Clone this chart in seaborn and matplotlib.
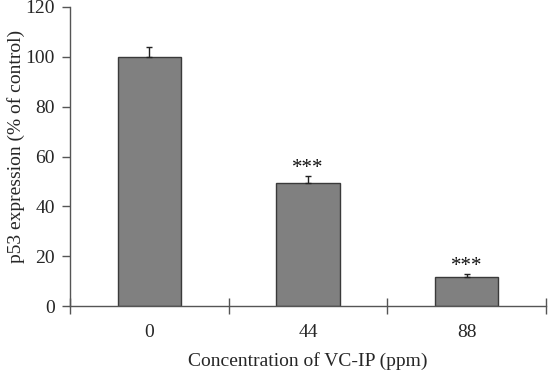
import matplotlib
matplotlib.use("Agg")
import matplotlib.pyplot as plt
import seaborn as sns
import numpy as np

categories = ["0", "44", "88"]
values = [100.0, 49.2, 11.6]
errors = [3.8, 2.9, 1.2]
stars = ["", "***", "***"]
y_ticks = [0, 20, 40, 60, 80, 100, 120]

sns.set_style("white")
plt.rcParams['font.family'] = ['Liberation Serif', 'DejaVu Serif']

fig = plt.figure(figsize=(5.49, 3.80), dpi=100)
ax = fig.add_axes([0.1275, 0.1947, 0.9945 - 0.1275, 0.9816 - 0.1947])

sns.barplot(x=categories, y=values, color="#808080", saturation=1, width=0.4,
            edgecolor="#3a3a3a", linewidth=1.0, errorbar=None, ax=ax)

pos = np.arange(len(categories))
ax.errorbar(pos, values, yerr=[np.zeros(len(values)), errors], fmt="none",
            ecolor="#222222", elinewidth=1.0, capsize=2.5, capthick=1.0)

for p, v, e, s in zip(pos, values, errors, stars):
    if s:
        ax.text(p, v + e - 0.6, s, ha="center", va="bottom", fontsize=15, color="#111111")

ax.set_xlim(-0.5, 2.5)
ax.set_ylim(0, 120)
ax.set_yticks(y_ticks)
ax.set_yticklabels([str(t) for t in y_ticks])

for sp in ["top", "right"]:
    ax.spines[sp].set_visible(False)
for sp in ["left", "bottom"]:
    ax.spines[sp].set_color("#555555")
    ax.spines[sp].set_linewidth(1.0)

ax.tick_params(axis="y", which="major", direction="out", length=6, width=1,
               color="#555555", labelsize=14, pad=5, left=True)
ax.tick_params(axis="x", which="major", length=0, labelsize=14, pad=13)
ax.set_xticks([-0.5, 0.5, 1.5, 2.5], minor=True)
ax.tick_params(axis="x", which="minor", direction="inout", length=11, width=1,
               color="#555555", bottom=True)

ax.set_xlabel("Concentration of VC-IP (ppm)", fontsize=14, labelpad=8)
ax.set_ylabel("p53 expression (% of control)", fontsize=14)
ax.yaxis.set_label_coords(-0.094, 0.535)

fig.savefig("out.png", dpi=100)
